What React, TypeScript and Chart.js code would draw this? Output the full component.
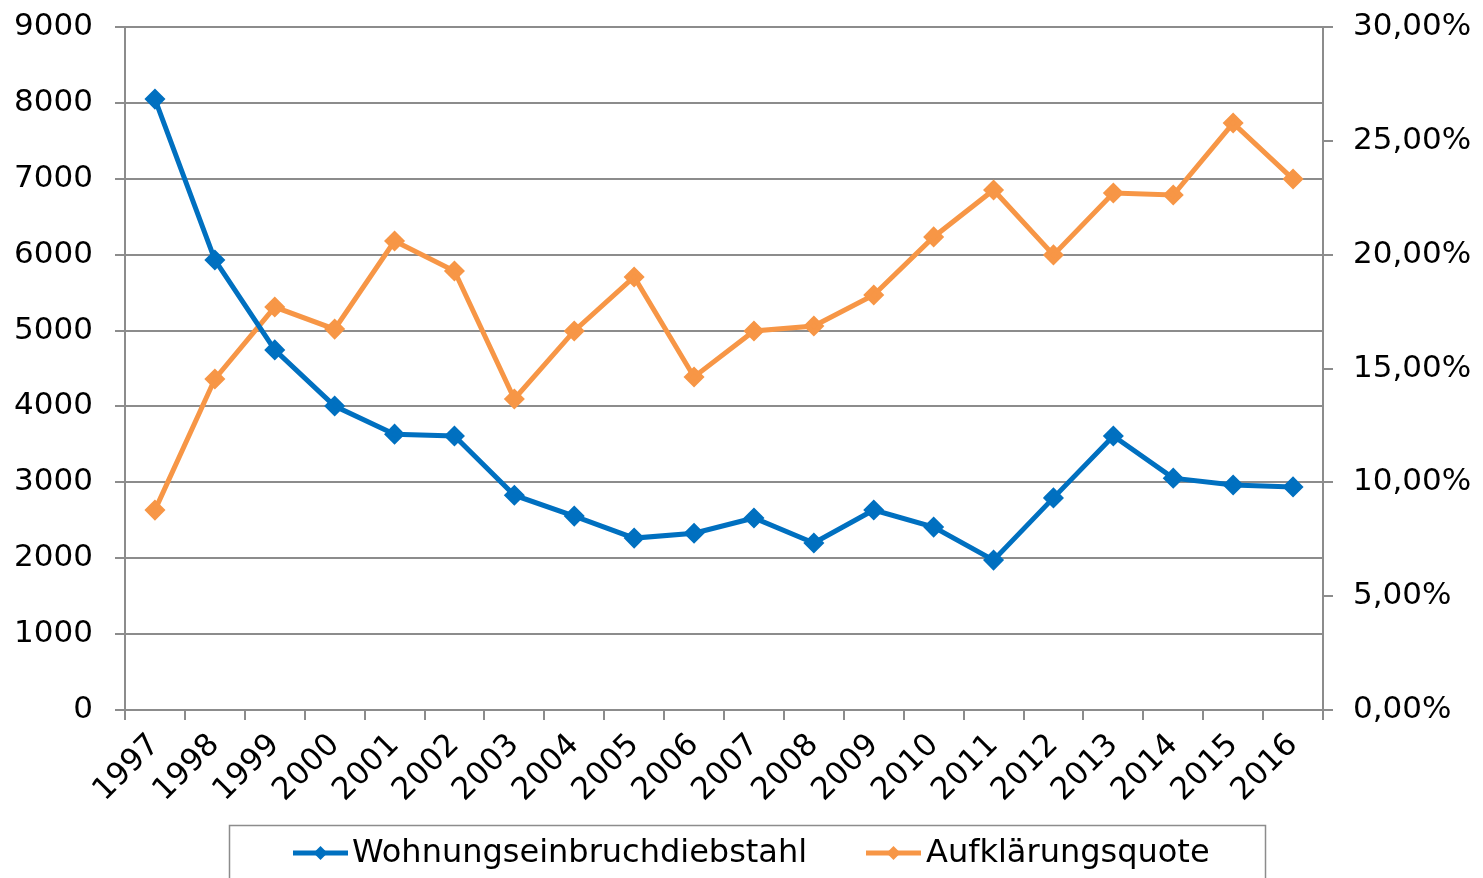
import React, { useEffect, useRef } from "react";
import { Chart, registerables } from "chart.js";

Chart.register(...registerables);

const years = ["1997","1998","1999","2000","2001","2002","2003","2004","2005","2006","2007","2008","2009","2010","2011","2012","2013","2014","2015","2016"];
const burglaries = [8050, 5930, 4745, 4005, 3635, 3610, 2830, 2555, 2265, 2330, 2530, 2200, 2635, 2410, 1975, 2795, 3610, 3055, 2965, 2940];
const clearanceRate = [0.0878, 0.1454, 0.1770, 0.1673, 0.2060, 0.1928, 0.1366, 0.1665, 0.1902, 0.1463, 0.1665, 0.1687, 0.1823, 0.2078, 0.2284, 0.1999, 0.2271, 0.2262, 0.2578, 0.2332];
const seriesNames = ["Wohnungseinbruchdiebstahl", "Aufklärungsquote"];
const seriesColors = ["#0070C0", "#F79646"];

const FONT = "'DejaVu Sans', Verdana, sans-serif";
const GRID = "#8c8c8c";

const legendPlugin = {
  id: "boxLegend",
  afterDraw(chart: any) {
    const ctx = chart.ctx;
    ctx.save();
    ctx.strokeStyle = GRID;
    ctx.lineWidth = 1.5;
    ctx.strokeRect(229.5, 825.5, 1036, 100);
    const items = [
      { x: 293, textX: 352 },
      { x: 866, textX: 926 },
    ];
    ctx.font = `32px ${FONT}`;
    ctx.textBaseline = "middle";
    ctx.textAlign = "left";
    const y = 853;
    chart.data.datasets.forEach((ds: any, i: number) => {
      const it = items[i];
      ctx.strokeStyle = ds.borderColor;
      ctx.lineWidth = 5;
      ctx.beginPath();
      ctx.moveTo(it.x, y);
      ctx.lineTo(it.x + 55, y);
      ctx.stroke();
      ctx.fillStyle = ds.borderColor;
      const cx = it.x + 27.5;
      const r = 7;
      ctx.beginPath();
      ctx.moveTo(cx, y - r);
      ctx.lineTo(cx + r, y);
      ctx.lineTo(cx, y + r);
      ctx.lineTo(cx - r, y);
      ctx.closePath();
      ctx.fill();
      ctx.fillStyle = "#000";
      ctx.fillText(ds.label, it.textX, y + 1);
    });
    ctx.restore();
  },
};

export default function App() {
  const ref = useRef<HTMLCanvasElement>(null);
  useEffect(() => {
    if (!ref.current) return;
    const chart = new Chart(ref.current, {
      type: "line",
      data: {
        labels: years,
        datasets: [
          {
            label: seriesNames[0],
            data: burglaries,
            yAxisID: "y",
            borderColor: seriesColors[0],
            backgroundColor: seriesColors[0],
            borderWidth: 5,
            pointStyle: "rectRot",
            pointRadius: 7,
            pointHoverRadius: 7,
            tension: 0,
          },
          {
            label: seriesNames[1],
            data: clearanceRate,
            yAxisID: "y1",
            borderColor: seriesColors[1],
            backgroundColor: seriesColors[1],
            borderWidth: 5,
            pointStyle: "rectRot",
            pointRadius: 7,
            pointHoverRadius: 7,
            tension: 0,
          },
        ],
      },
      options: {
        responsive: false,
        animation: false,
        layout: { padding: { top: 27, left: 0, right: 0, bottom: 0 } },
        plugins: { legend: { display: false }, tooltip: { enabled: false } },
        scales: {
          x: {
            offset: true,
            grid: { display: true, drawOnChartArea: false, drawTicks: true, tickLength: 10, color: GRID, lineWidth: 2, offset: true },
            border: { display: true, color: GRID, width: 2 },
            ticks: { color: "#000", font: { family: FONT, size: 31 }, minRotation: 45, maxRotation: 45, padding: 7, autoSkip: false },
            afterFit: (s: any) => { s.height = 168; s.paddingLeft = 0; s.paddingRight = 0; },
          },
          y: {
            position: "left",
            min: 0,
            max: 9000,
            ticks: {
              stepSize: 1000,
              color: "#000",
              font: { family: FONT, size: 31 },
              padding: 22,
              callback: (v: any) => String(v),
            },
            grid: { color: GRID, lineWidth: 2, tickLength: 10 },
            border: { display: true, color: GRID, width: 2 },
            afterFit: (s: any) => { s.width = 125; s.paddingTop = 0; s.paddingBottom = 0; },
          },
          y1: {
            position: "right",
            min: 0,
            max: 0.3,
            ticks: {
              stepSize: 0.05,
              color: "#000",
              font: { family: FONT, size: 31 },
              padding: 20,
              callback: (v: any) => (Number(v) * 100).toFixed(2).replace(".", ",") + "%",
            },
            grid: { drawOnChartArea: false, color: GRID, lineWidth: 2, tickLength: 10 },
            border: { display: true, color: GRID, width: 2 },
            afterFit: (s: any) => { s.width = 160; s.paddingTop = 0; s.paddingBottom = 0; },
          },
        },
      },
      plugins: [legendPlugin],
    });
    return () => chart.destroy();
  }, []);
  return (
    <div style={{ position: "absolute", left: 0, top: 0, width: 1483, height: 878, background: "#fff" }}>
      <canvas ref={ref} width={1483} height={878} />
    </div>
  );
}
